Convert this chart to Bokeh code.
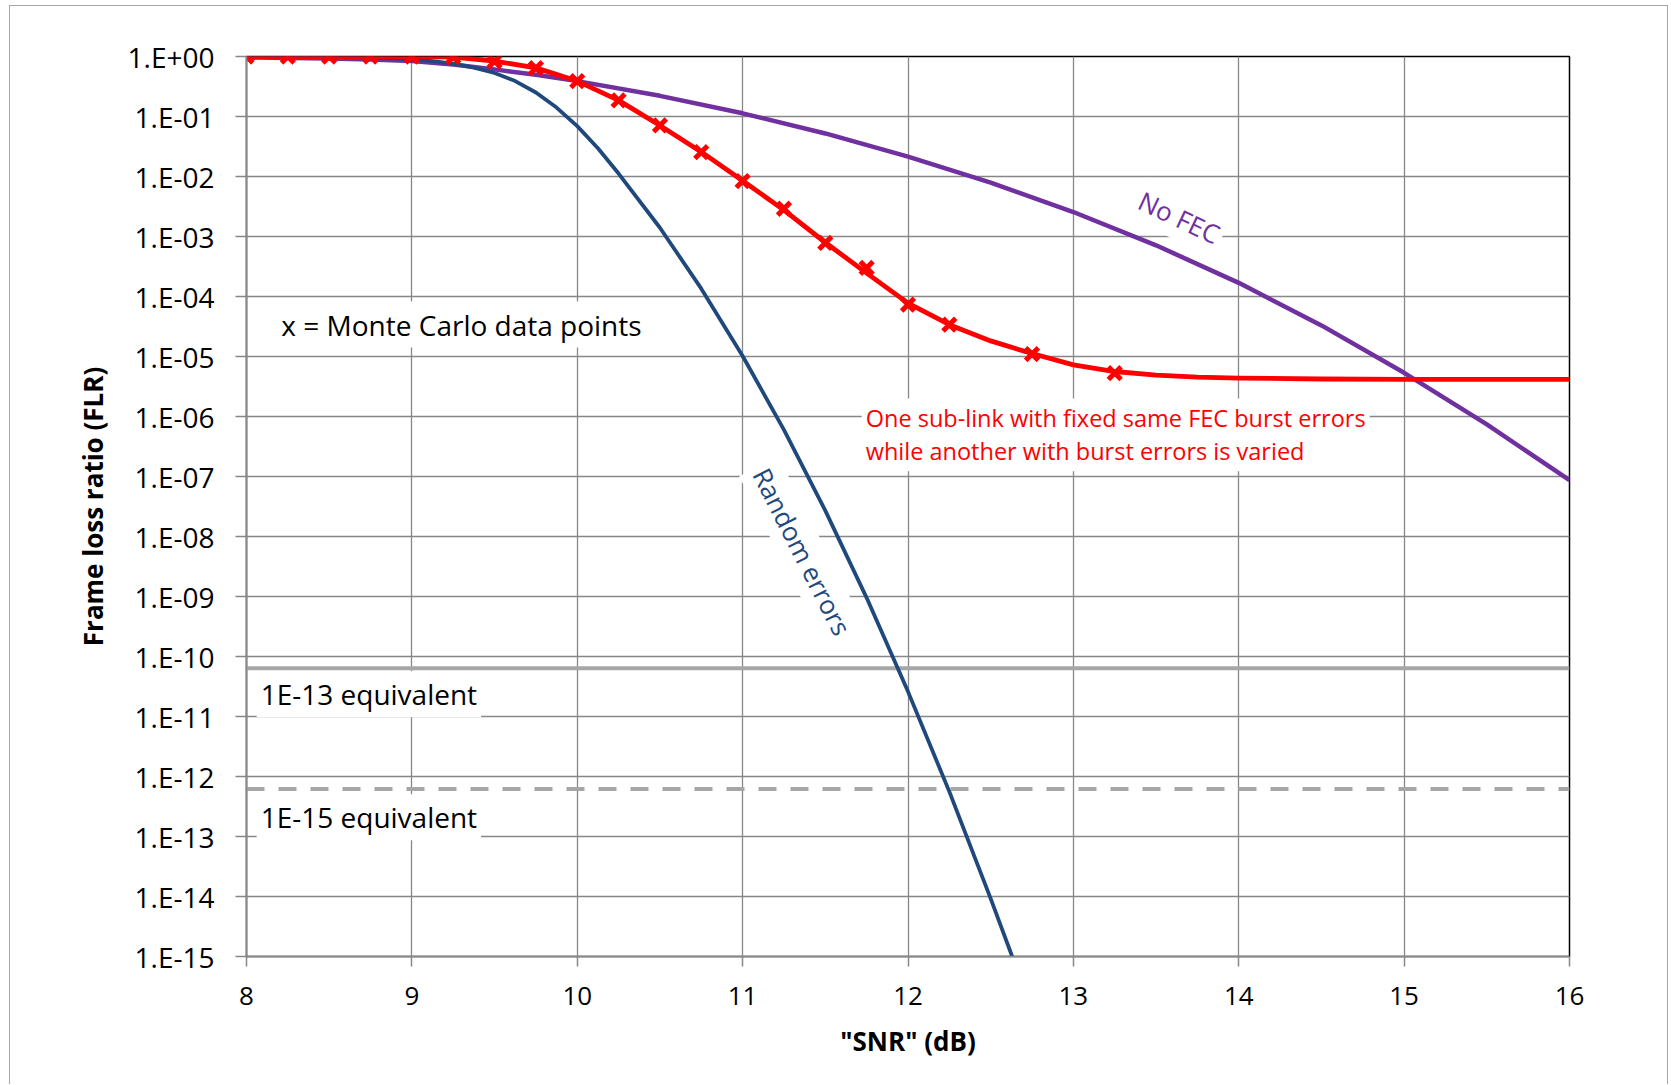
from bokeh.plotting import figure
from bokeh.models import Range1d, FixedTicker, CustomJSTickFormatter, Label, Span
from bokeh.embed import file_html
from bokeh.resources import INLINE

# ---------------- data ----------------
X_TICKS = [8, 9, 10, 11, 12, 13, 14, 15, 16]
Y_TICKS = [1e0, 1e-1, 1e-2, 1e-3, 1e-4, 1e-5, 1e-6, 1e-7, 1e-8,
           1e-9, 1e-10, 1e-11, 1e-12, 1e-13, 1e-14, 1e-15]
Y_TICK_LABELS = ["1.E+00", "1.E-01", "1.E-02", "1.E-03", "1.E-04", "1.E-05",
                 "1.E-06", "1.E-07", "1.E-08", "1.E-09", "1.E-10", "1.E-11",
                 "1.E-12", "1.E-13", "1.E-14", "1.E-15"]

# No FEC
SNR_NOFEC = [8, 8.5, 8.75, 9, 9.25, 9.5, 9.75, 10, 10.5, 11, 11.5, 12, 12.5,
             13, 13.5, 14, 14.5, 15, 15.5, 16]
FLR_NOFEC = [0.962, 0.923, 0.891, 0.841, 0.733, 0.610, 0.495, 0.389, 0.221,
             0.113, 0.0522, 0.0215, 0.00791, 0.00256, 7.13e-4, 1.69e-4,
             3.30e-5, 5.35e-6, 7.38e-7, 8.67e-8]

# Random errors
SNR_RANDOM = [8, 8.25, 8.5, 8.75, 8.875, 9, 9.125, 9.25, 9.375, 9.5, 9.625,
              9.75, 9.875, 10, 10.125, 10.25, 10.5, 10.75, 11, 11.25, 11.5,
              11.75, 12, 12.25, 12.5, 12.63]
FLR_RANDOM = [0.999, 0.995, 0.986, 0.955, 0.929, 0.891, 0.836, 0.759, 0.653,
              0.531, 0.389, 0.251, 0.141, 0.0692, 0.0295, 0.0112, 1.40e-3,
              1.35e-4, 1.02e-5, 6.0e-7, 2.7e-8, 9.5e-10, 2.6e-11, 5.6e-13,
              9.2e-15, 1.0e-15]

# One sub-link with fixed same FEC burst errors (analytic curve)
SNR_BURST = [8, 9, 9.25, 9.5, 9.75, 10, 10.25, 10.5, 10.75, 11, 11.25, 11.5,
             11.75, 12, 12.25, 12.5, 12.75, 13, 13.25, 13.5, 13.75, 14, 14.5,
             15, 16]
FLR_BURST = [1.0, 1.0, 0.977, 0.841, 0.646, 0.389, 0.186, 0.0708, 0.0257,
             0.00851, 0.00275, 7.94e-4, 2.45e-4, 7.76e-5, 3.39e-5, 1.82e-5,
             1.12e-5, 7.24e-6, 5.62e-6, 4.90e-6, 4.52e-6, 4.37e-6, 4.22e-6,
             4.17e-6, 4.17e-6]

# Monte Carlo data points
SNR_MC = [8, 8.25, 8.5, 8.75, 9, 9.25, 9.5, 9.75, 10, 10.25, 10.5, 10.75, 11,
          11.25, 11.5, 11.75, 12, 12.25, 12.75, 13.25]
FLR_MC = [1.0, 1.0, 1.0, 1.0, 1.0, 0.98, 0.83, 0.64, 0.39, 0.186, 0.071,
          0.0255, 0.0084, 0.0029, 7.8e-4, 3.0e-4, 7.3e-5, 3.4e-5, 1.1e-5, 5.3e-6]

# Equivalent FLR reference levels
FLR_EQ_1E13 = 6.4e-11
FLR_EQ_1E15 = 6.2e-13

FONT = "Open Sans"
GRID = "#878787"

p = figure(width=1659, height=1079,
           x_range=Range1d(8, 16), y_range=Range1d(1e-15, 1),
           y_axis_type="log", output_backend="svg", toolbar_location=None,
           min_border_left=236, min_border_right=100,
           min_border_top=50, min_border_bottom=129,
           background_fill_color="white", border_fill_color="white",
           styles={"border": "1px solid #a6a6a6", "border-bottom": "none",
                   "margin-left": "9px", "margin-top": "5px"})

p.outline_line_color = "black"
p.outline_line_width = 1.5

# axes
p.xaxis.ticker = FixedTicker(ticks=X_TICKS)
p.yaxis.ticker = FixedTicker(ticks=Y_TICKS)
p.yaxis.formatter = CustomJSTickFormatter(
    args=dict(labels=Y_TICK_LABELS),
    code="const k = Math.round(-Math.log10(tick)); "
         "return (k >= 0 && k < labels.length) ? labels[k] : '';")

for ax in (p.xaxis, p.yaxis):
    ax.axis_line_color = GRID
    ax.axis_line_width = 1.5
    ax.major_tick_line_color = GRID
    ax.major_tick_line_width = 1.5
    ax.major_tick_in = 0
    ax.minor_tick_line_color = None
    ax.major_label_text_font = FONT
    ax.major_label_text_color = "black"
    ax.axis_label_text_font = FONT
    ax.axis_label_text_font_size = "26px"
    ax.axis_label_text_font_style = "bold"
    ax.axis_label_text_color = "black"

p.xaxis.major_label_text_font_size = "26px"
p.yaxis.major_label_text_font_size = "28px"
p.xaxis.major_tick_out = 10
p.yaxis.major_tick_out = 11
p.xaxis.major_label_standoff = 20
p.yaxis.major_label_standoff = 21
p.xaxis.axis_label = '"SNR" (dB)'
p.yaxis.axis_label = "Frame loss ratio (FLR)"
p.xaxis.axis_label_standoff = 15
p.yaxis.axis_label_standoff = 14

p.xgrid.grid_line_color = GRID
p.xgrid.grid_line_width = 1.3
p.ygrid.grid_line_color = GRID
p.ygrid.grid_line_width = 1.6

# equivalent levels
p.add_layout(Span(location=FLR_EQ_1E13, dimension="width", line_color="#a6a6a6",
                  line_width=4, level="underlay"))
p.add_layout(Span(location=FLR_EQ_1E15, dimension="width", line_color="#a6a6a6",
                  line_width=4, line_dash="18 14", level="underlay"))

# curves
p.line(SNR_NOFEC, FLR_NOFEC, line_color="#7030A0", line_width=4.5,
       line_join="round")
p.line(SNR_RANDOM, FLR_RANDOM, line_color="#1F497D", line_width=3.8,
       line_join="round")
p.line(SNR_BURST, FLR_BURST, line_color="#FF0000", line_width=4.8,
       line_join="round")
p.scatter(SNR_MC, FLR_MC, marker="x", size=18, line_color="#FF0000",
          line_width=5)

# annotations
def lab(text, x, y, color="black", size="28px", angle=0.0, align="center"):
    p.add_layout(Label(text=text, x=x, y=y, text_font=FONT, text_font_size=size,
                       text_color=color, text_align=align,
                       text_baseline="middle", angle=angle,
                       background_fill_color="white", padding=4))

lab("x = Monte Carlo data points", 9.30, 3.4e-5)
lab("1E-13 equivalent", 8.74, 2.36e-11)
lab("1E-15 equivalent", 8.74, 2.1e-13)
lab("One sub-link with fixed same FEC burst errors", 11.72, 9.3e-7,
    color="#FF0000", size="23.5px", align="left")
lab("while another with burst errors is varied", 11.72, 2.63e-7,
    color="#FF0000", size="23.5px", align="left")
lab("No FEC", 13.64, 2.08e-3, color="#7030A0", size="26px", angle=-0.44)
lab("Random errors", 11.36, 5.6e-9, color="#1F497D", size="26px", angle=-1.10)

open("out.html", "w").write(file_html(p, INLINE))
